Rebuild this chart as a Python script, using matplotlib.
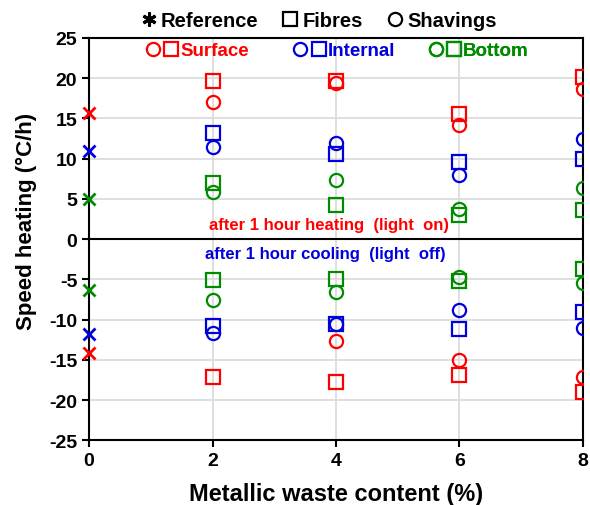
import matplotlib
matplotlib.use("Agg")
import matplotlib.pyplot as plt
from matplotlib.lines import Line2D
from matplotlib.legend_handler import HandlerTuple

plt.rcParams["font.family"] = ["Liberation Sans", "DejaVu Sans"]
plt.rcParams["font.weight"] = "bold"
plt.rcParams["axes.unicode_minus"] = False

# --- data ---
content = [2, 4, 6, 8]
positions = ["Surface", "Internal", "Bottom"]
colors = {"Surface": "#FF0000", "Internal": "#0000DD", "Bottom": "#008C00"}

ref_heat = {"Surface": 15.7, "Internal": 11.0, "Bottom": 5.0}
ref_cool = {"Surface": -14.2, "Internal": -11.8, "Bottom": -6.3}

fibres_heat = {
    "Surface": [19.7, 19.6, 15.6, 20.1],
    "Internal": [13.2, 10.6, 9.6, 9.9],
    "Bottom": [7.0, 4.2, 3.0, 3.6],
}
shavings_heat = {
    "Surface": [17.0, 19.4, 14.2, 18.7],
    "Internal": [11.5, 12.0, 8.0, 12.4],
    "Bottom": [5.9, 7.4, 3.7, 6.4],
}
fibres_cool = {
    "Surface": [-17.1, -17.7, -16.9, -19.0],
    "Internal": [-10.8, -10.6, -11.2, -9.0],
    "Bottom": [-5.1, -5.0, -5.2, -3.7],
}
shavings_cool = {
    "Surface": [float("nan"), -12.7, -15.0, -17.2],
    "Internal": [-11.7, -10.6, -8.8, -11.0],
    "Bottom": [-7.6, -6.6, -4.7, -5.5],
}

MS = 9.5
MEW = 1.6

fig = plt.figure(figsize=(5.9, 5.06), dpi=100)
ax = fig.add_axes([0.151, 0.128, 0.837, 0.795])

for p in positions:
    c = colors[p]
    for vals in (fibres_heat[p], fibres_cool[p]):
        ax.plot(content, vals, ls="none", marker="s", ms=MS, mfc="none",
                mec=c, mew=MEW, zorder=3)
    for vals in (shavings_heat[p], shavings_cool[p]):
        ax.plot(content, vals, ls="none", marker="o", ms=MS, mfc="none",
                mec=c, mew=MEW, zorder=3)
    ax.plot([0, 0], [ref_heat[p], ref_cool[p]], ls="none", marker="x", ms=8,
            mec=c, mew=2, clip_on=False, zorder=4)

ax.axhline(0, color="black", lw=1.5, zorder=2)

ax.set_xlim(0, 8)
ax.set_ylim(-25, 25)
ax.set_xticks([0, 2, 4, 6, 8])
ax.set_yticks(range(-25, 26, 5))
ax.grid(True, color="#D9D9D9", lw=1.2, zorder=0)
ax.set_axisbelow(True)
for s in ax.spines.values():
    s.set_linewidth(1.5)
ax.tick_params(axis="both", labelsize=14, width=1.5, length=5, direction="out")
for lab in ax.get_xticklabels() + ax.get_yticklabels():
    lab.set_fontweight("bold")

ax.set_xlabel("Metallic waste content (%)", fontsize=17, fontweight="bold", labelpad=9)
ax.set_ylabel("Speed heating (°C/h)", fontsize=16, fontweight="bold")
ax.yaxis.set_label_coords(-0.105, 0.547)

ax.text(1.94, 1.8, "after 1 hour heating  (light  on)", color=colors["Surface"],
        fontsize=12, fontweight="bold", va="center", ha="left")
ax.text(1.88, -1.8, "after 1 hour cooling  (light  off)", color=colors["Internal"],
        fontsize=12, fontweight="bold", va="center", ha="left")

# top legend: sample types
type_handles = [
    Line2D([], [], ls="none", marker=(6, 2, 0), ms=10, mec="black", mew=2.2),
    Line2D([], [], ls="none", marker="s", ms=9.5, mfc="none", mec="black", mew=1.6),
    Line2D([], [], ls="none", marker="o", ms=9.5, mfc="none", mec="black", mew=1.6),
]
fig.legend(type_handles, ["Reference", "Fibres", "Shavings"], loc="center",
           bbox_to_anchor=(0.54, 0.958), ncol=3, frameon=False,
           handlelength=0.8, handletextpad=0.2, columnspacing=1.2,
           prop={"weight": "bold", "size": 14.5})

# inside legends: positions (one per colour)
pos_x = [0.116, 0.414, 0.688]
for p, x0 in zip(positions, pos_x):
    c = colors[p]
    h = (Line2D([], [], ls="none", marker="o", ms=9.5, mfc="none", mec=c, mew=1.6),
         Line2D([], [], ls="none", marker="s", ms=9.5, mfc="none", mec=c, mew=1.6))
    leg = ax.legend([h], [p], loc="center left", bbox_to_anchor=(x0, 0.968),
                    frameon=False, borderaxespad=0, borderpad=0,
                    handler_map={tuple: HandlerTuple(ndivide=None, pad=0.25)},
                    handlelength=1.7, handletextpad=0.1,
                    labelcolor=c, prop={"weight": "bold", "size": 13.5})
    ax.add_artist(leg)

fig.savefig("out.png", dpi=100)
